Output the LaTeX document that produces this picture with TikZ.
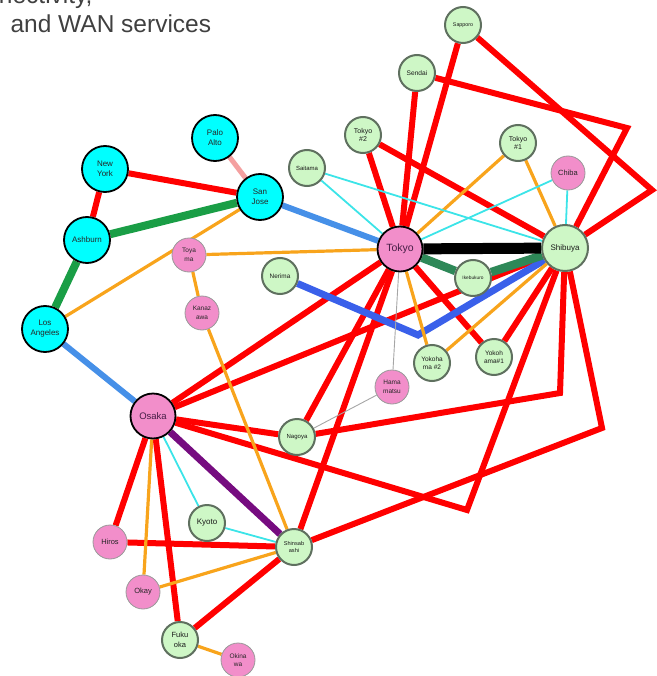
\documentclass[tikz,border=0pt]{standalone}
\usepackage{fontspec}
\setmainfont{Liberation Sans}
\usetikzlibrary{backgrounds}

\definecolor{nodecyan}{RGB}{0,255,255}
\definecolor{nodepink}{RGB}{242,142,202}
\definecolor{nodegreen}{RGB}{206,247,198}
\definecolor{greenrim}{RGB}{95,112,95}
\definecolor{lineorange}{RGB}{248,164,28}
\definecolor{linecyan}{RGB}{60,228,232}
\definecolor{lineblue}{RGB}{70,144,232}
\definecolor{lineroyal}{RGB}{58,96,234}
\definecolor{linegreen}{RGB}{26,158,70}
\definecolor{lineteal}{RGB}{46,136,88}
\definecolor{linepurple}{RGB}{118,12,128}
\definecolor{linerose}{RGB}{244,160,160}
\definecolor{titlegray}{RGB}{64,64,64}
\definecolor{hubtext}{RGB}{70,30,70}

\begin{document}
\begin{tikzpicture}[x=1pt, y=-1pt,
  cyan node/.style={circle, draw=black, line width=1.8pt, fill=nodecyan, minimum size=46pt, inner sep=0pt, align=center, text=black!85, font=\fontsize{8}{10}\selectfont},
  pink node/.style={circle, draw=gray!80, line width=0.8pt, fill=nodepink, minimum size=34pt, inner sep=0pt, align=center, text=black!85, font=\fontsize{7}{8.5}\selectfont},
  green node/.style={circle, draw=greenrim, line width=2pt, fill=nodegreen, minimum size=36pt, inner sep=0pt, align=center, text=black!90, font=\fontsize{7}{8.5}\selectfont},
  hub node/.style={pink node, draw=black, line width=1.8pt, minimum size=45pt, text=hubtext, font=\fontsize{10.5}{12}\selectfont},
  red line/.style={draw=red, line width=6pt},
  orange line/.style={draw=lineorange, line width=3.2pt},
  cyan line/.style={draw=linecyan, line width=1.8pt},
  gray line/.style={draw=gray!70, line width=0.9pt},
  blue line/.style={draw=lineblue, line width=6pt},
  royal line/.style={draw=lineroyal, line width=7pt},
  green line/.style={draw=linegreen, line width=8pt},
  teal line/.style={draw=lineteal, line width=8.5pt},
  black line/.style={draw=black, line width=11pt},
  purple line/.style={draw=linepurple, line width=7pt},
  rose line/.style={draw=linerose, line width=5pt}]

  \useasboundingbox (0,0) rectangle (656,676);

  % title, cut at the top edge
  \node[anchor=base east, text=titlegray, font=\fontsize{24.5}{29}\selectfont] (title1) at (96,3.5) {connectivity,};
  \node[anchor=base west, text=titlegray, font=\fontsize{24.5}{29}\selectfont] (title2) at (7,33) {and WAN services};

  % US sites
  \node[cyan node] (paloalto) at (215,138) {Palo\\Alto};
  \node[cyan node] (newyork) at (105,169) {New\\York};
  \node[cyan node] (sanjose) at (260,197) {San\\Jose};
  \node[cyan node] (ashburn) at (87,240) {Ashburn};
  \node[cyan node] (losangeles) at (45,329) {Los\\Angeles};

  % hubs
  \node[hub node] (tokyo) at (400,249) {Tokyo};
  \node[hub node, font=\fontsize{9.5}{11}\selectfont] (osaka) at (153,416) {Osaka};
  \node[green node, minimum size=46pt, font=\fontsize{8}{10}\selectfont] (shibuya) at (565,248) {Shibuya};

  % Japan, green
  \node[green node, font=\fontsize{5.3}{6}\selectfont] (sapporo) at (463,25) {Sapporo};
  \node[green node, font=\fontsize{6.6}{8}\selectfont] (sendai) at (417,73) {Sendai};
  \node[green node] (tokyotwo) at (363,135) {Tokyo\\\#2};
  \node[green node] (tokyoone) at (518,143) {Tokyo\\\#1};
  \node[green node, font=\fontsize{6}{7}\selectfont] (saitama) at (307,168) {Saitama};
  \node[green node, font=\fontsize{6.4}{7}\selectfont] (nerima) at (280,276) {Nerima};
  \node[green node, font=\fontsize{4.8}{6}\selectfont] (ikebukuro) at (473,278) {Ikebukuro};
  \node[green node, font=\fontsize{6.5}{8.5}\selectfont] (yokohamatwo) at (432,363) {Yokoha\\ma \#2};
  \node[green node, font=\fontsize{6.5}{8.5}\selectfont] (yokohamaone) at (494,357) {Yokoh\\ama\#1};
  \node[green node, font=\fontsize{6}{7}\selectfont] (nagoya) at (297,437) {Nagoya};
  \node[green node, font=\fontsize{8}{9}\selectfont] (kyoto) at (207,523) {Kyoto};
  \node[green node, font=\fontsize{5.6}{7.5}\selectfont] (shinsabashi) at (294,547) {Shinsab\\ashi};
  \node[green node, font=\fontsize{7.5}{9.5}\selectfont] (fukuoka) at (180,640) {Fuku\\oka};

  % Japan, pink
  \node[pink node, font=\fontsize{7.5}{9}\selectfont] (chiba) at (568,173) {Chiba};
  \node[pink node, font=\fontsize{6.5}{8.5}\selectfont] (toyama) at (189,255) {Toya\\ma};
  \node[pink node, font=\fontsize{6.5}{8.5}\selectfont] (kanazawa) at (202,313) {Kanaz\\awa};
  \node[pink node, font=\fontsize{6.5}{8.5}\selectfont] (hamamatsu) at (392,387) {Hama\\matsu};
  \node[pink node, font=\fontsize{7.5}{9}\selectfont] (hiros) at (110,542) {Hiros};
  \node[pink node, font=\fontsize{7.5}{9}\selectfont] (okay) at (143,592) {Okay};
  \node[pink node, font=\fontsize{6.5}{8.5}\selectfont] (okinawa) at (238,660) {Okina\\wa};

  % bends of the long links
  \coordinate (bendsapporo) at (652,190);
  \coordinate (bendsendai) at (627,128);
  \coordinate (bendnerima) at (418,335);
  \coordinate (bendnagoya) at (560,393);
  \coordinate (bendshinsa) at (602,428);
  \coordinate (bendosaka) at (467,510);

  \begin{scope}[on background layer]
  \path
   (newyork) edge[red line] (sanjose)
   (newyork) edge[red line] (ashburn)
   (tokyo) edge[red line] (sapporo)
   (tokyo) edge[red line] (sendai)
   (tokyo) edge[red line] (tokyotwo)
   (tokyotwo) edge[red line] (shibuya)
   (tokyo) edge[red line] (yokohamaone)
   (shibuya) edge[red line] (yokohamaone)
   (osaka) edge[red line] (tokyo)
   (osaka) edge[red line] (shibuya)
   (tokyo) edge[red line] (nagoya)
   (tokyo) edge[red line] (shinsabashi)
   (osaka) edge[red line] (nagoya)
   (osaka) edge[red line] (hiros)
   (osaka) edge[red line] (fukuoka)
   (hiros) edge[red line] (shinsabashi)
   (fukuoka) edge[red line] (shinsabashi);
  \draw[red line] (sapporo) -- (bendsapporo) -- (shibuya);
  \draw[red line] (sendai) -- (bendsendai) -- (shibuya);
  \draw[red line] (nagoya) -- (bendnagoya) -- (shibuya);
  \draw[red line] (shinsabashi) -- (bendshinsa) -- (shibuya);
  \draw[red line] (osaka) -- (bendosaka) -- (shibuya);
  \draw[royal line] (nerima) -- (bendnerima) -- (shibuya);
  \path
   (losangeles) edge[orange line] (sanjose)
   (toyama) edge[orange line] (tokyo)
   (toyama) edge[orange line] (kanazawa)
   (kanazawa) edge[orange line] (shinsabashi)
   (tokyoone) edge[orange line] (tokyo)
   (tokyoone) edge[orange line] (shibuya)
   (tokyo) edge[orange line] (yokohamatwo)
   (shibuya) edge[orange line] (yokohamatwo)
   (osaka) edge[orange line] (okay)
   (okay) edge[orange line] (shinsabashi)
   (fukuoka) edge[orange line] (okinawa)
   (saitama) edge[cyan line] (tokyo)
   (saitama) edge[cyan line] (shibuya)
   (chiba) edge[cyan line] (tokyo)
   (chiba) edge[cyan line] (shibuya)
   (osaka) edge[cyan line] (kyoto)
   (kyoto) edge[cyan line] (shinsabashi)
   (tokyo) edge[gray line] (hamamatsu)
   (hamamatsu) edge[gray line] (nagoya)
   (sanjose) edge[blue line] (tokyo)
   (losangeles) edge[blue line] (osaka)
   (ashburn) edge[green line] (sanjose)
   (ashburn) edge[green line] (losangeles)
   (tokyo) edge[teal line] (ikebukuro)
   (ikebukuro) edge[teal line] (shibuya)
   (tokyo) edge[black line] (shibuya)
   (osaka) edge[purple line] (shinsabashi)
   (paloalto) edge[rose line] (sanjose);
  \end{scope}
\end{tikzpicture}
\end{document}
